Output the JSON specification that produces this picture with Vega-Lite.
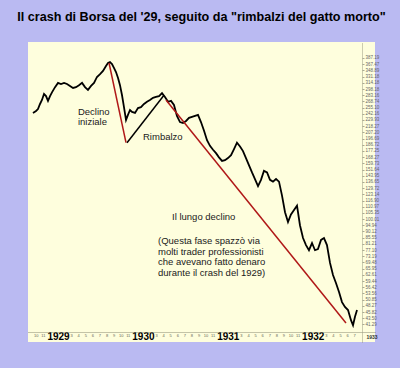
{
  "$schema": "https://vega.github.io/schema/vega-lite/v6.json",
  "width": 347,
  "height": 300,
  "autosize": {"type": "none"},
  "padding": {"left": 28, "top": 42, "right": 25, "bottom": 26},
  "background": "#babaf2",
  "title": {
    "text": "Il crash di Borsa del '29, seguito da \"rimbalzi del gatto morto\"",
    "font": "Liberation Sans",
    "fontSize": 12.6,
    "fontWeight": "bold",
    "color": "#000000",
    "anchor": "middle",
    "frame": "group",
    "offset": 18
  },
  "config": {"view": {"fill": "#fefedd", "stroke": null}},
  "resolve": {"axis": {"x": "independent"}},
  "datasets": {
    "price": [
      {"t": 1928.764, "v": 244}, {"t": 1928.800, "v": 248}, {"t": 1928.823, "v": 252},
      {"t": 1928.847, "v": 263}, {"t": 1928.870, "v": 272}, {"t": 1928.894, "v": 286},
      {"t": 1928.918, "v": 281}, {"t": 1928.941, "v": 270}, {"t": 1928.965, "v": 281},
      {"t": 1928.988, "v": 290}, {"t": 1929.024, "v": 303}, {"t": 1929.059, "v": 314},
      {"t": 1929.094, "v": 311}, {"t": 1929.130, "v": 314}, {"t": 1929.165, "v": 311},
      {"t": 1929.200, "v": 306}, {"t": 1929.236, "v": 301}, {"t": 1929.271, "v": 303},
      {"t": 1929.306, "v": 308}, {"t": 1929.342, "v": 314}, {"t": 1929.377, "v": 303},
      {"t": 1929.412, "v": 296}, {"t": 1929.448, "v": 306}, {"t": 1929.483, "v": 314},
      {"t": 1929.518, "v": 330}, {"t": 1929.554, "v": 338}, {"t": 1929.589, "v": 347},
      {"t": 1929.624, "v": 362}, {"t": 1929.648, "v": 371}, {"t": 1929.671, "v": 374},
      {"t": 1929.695, "v": 368}, {"t": 1929.718, "v": 356}, {"t": 1929.742, "v": 344},
      {"t": 1929.766, "v": 327}, {"t": 1929.789, "v": 308}, {"t": 1929.813, "v": 283},
      {"t": 1929.836, "v": 256}, {"t": 1929.860, "v": 230}, {"t": 1929.883, "v": 240},
      {"t": 1929.907, "v": 250}, {"t": 1929.931, "v": 246}, {"t": 1929.966, "v": 244},
      {"t": 1930.001, "v": 254}, {"t": 1930.036, "v": 256}, {"t": 1930.072, "v": 263},
      {"t": 1930.107, "v": 268}, {"t": 1930.142, "v": 272}, {"t": 1930.178, "v": 277},
      {"t": 1930.213, "v": 279}, {"t": 1930.249, "v": 281}, {"t": 1930.284, "v": 288},
      {"t": 1930.319, "v": 279}, {"t": 1930.355, "v": 268}, {"t": 1930.390, "v": 270},
      {"t": 1930.425, "v": 261}, {"t": 1930.460, "v": 238}, {"t": 1930.496, "v": 226},
      {"t": 1930.531, "v": 224}, {"t": 1930.567, "v": 228}, {"t": 1930.602, "v": 234},
      {"t": 1930.637, "v": 236}, {"t": 1930.673, "v": 238}, {"t": 1930.708, "v": 240},
      {"t": 1930.743, "v": 226}, {"t": 1930.779, "v": 210}, {"t": 1930.814, "v": 194},
      {"t": 1930.849, "v": 185}, {"t": 1930.885, "v": 179}, {"t": 1930.920, "v": 174},
      {"t": 1930.955, "v": 168}, {"t": 1930.991, "v": 163}, {"t": 1931.026, "v": 164},
      {"t": 1931.061, "v": 167}, {"t": 1931.097, "v": 171}, {"t": 1931.132, "v": 180},
      {"t": 1931.167, "v": 190}, {"t": 1931.203, "v": 184}, {"t": 1931.238, "v": 177},
      {"t": 1931.273, "v": 167}, {"t": 1931.309, "v": 157}, {"t": 1931.344, "v": 148},
      {"t": 1931.379, "v": 140}, {"t": 1931.415, "v": 132}, {"t": 1931.450, "v": 139},
      {"t": 1931.485, "v": 150}, {"t": 1931.521, "v": 148}, {"t": 1931.556, "v": 139},
      {"t": 1931.591, "v": 137}, {"t": 1931.627, "v": 140}, {"t": 1931.662, "v": 137},
      {"t": 1931.697, "v": 122}, {"t": 1931.733, "v": 106}, {"t": 1931.768, "v": 97.6},
      {"t": 1931.803, "v": 104}, {"t": 1931.839, "v": 108}, {"t": 1931.874, "v": 112},
      {"t": 1931.909, "v": 95}, {"t": 1931.945, "v": 85.3}, {"t": 1931.980, "v": 80.4},
      {"t": 1932.015, "v": 77.0}, {"t": 1932.051, "v": 81.8}, {"t": 1932.086, "v": 77.0},
      {"t": 1932.121, "v": 77.7}, {"t": 1932.157, "v": 84.0}, {"t": 1932.192, "v": 85.3},
      {"t": 1932.227, "v": 80.4}, {"t": 1932.263, "v": 69.2}, {"t": 1932.298, "v": 62.5},
      {"t": 1932.333, "v": 58.5}, {"t": 1932.369, "v": 54.2}, {"t": 1932.404, "v": 49.8},
      {"t": 1932.439, "v": 47.8}, {"t": 1932.475, "v": 46.6}, {"t": 1932.510, "v": 42.8},
      {"t": 1932.534, "v": 41.0}, {"t": 1932.557, "v": 44.0}, {"t": 1932.581, "v": 46.6}
    ],
    "trends": [
      {"seg": "a", "kind": "declino", "t": 1929.660, "v": 371},
      {"seg": "a", "kind": "declino", "t": 1929.860, "v": 190},
      {"seg": "b", "kind": "rimbalzo", "t": 1929.872, "v": 190},
      {"seg": "b", "kind": "rimbalzo", "t": 1930.307, "v": 283},
      {"seg": "c", "kind": "declino", "t": 1930.331, "v": 272},
      {"seg": "c", "kind": "declino", "t": 1932.451, "v": 41.8}
    ],
    "notes": [
      {"t": 1929.294, "v": 246, "label": "Declino"},
      {"t": 1929.294, "v": 226, "label": "iniziale"},
      {"t": 1930.060, "v": 200, "label": "Rimbalzo"},
      {"t": 1930.402, "v": 101.8, "label": "Il lungo declino"},
      {"t": 1930.237, "v": 83.2, "label": "(Questa fase spazzò via"},
      {"t": 1930.237, "v": 75.8, "label": "molti trader professionisti"},
      {"t": 1930.237, "v": 69.5, "label": "che avevano fatto denaro"},
      {"t": 1930.237, "v": 63.6, "label": "durante il crash del 1929)"}
    ],
    "corner": [
      {"t": 1932.7575, "v": 37.14, "label": "1933"}
    ]
  },
  "layer": [
    {
      "data": {"name": "price"},
      "mark": {"type": "line", "color": "#000000", "strokeWidth": 1.8},
      "encoding": {
        "x": {
          "field": "t",
          "type": "quantitative",
          "scale": {"domain": [1928.7055, 1932.7928], "nice": false, "zero": false},
          "axis": {
            "orient": "bottom",
            "offset": -10,
            "title": null,
            "grid": false,
            "values": [1929, 1930, 1931, 1932],
            "format": "d",
            "domainDash": [1, 1],
            "domainColor": "#8a8a70",
            "ticks": false,
            "labelPadding": -1,
            "labelOffset": 5,
            "labelOverlap": false,
            "labelBound": false,
            "labelFlush": false,
            "labelFont": "Liberation Sans",
            "labelFontSize": 10,
            "labelFontWeight": "bold",
            "labelColor": "#000000"
          }
        },
        "y": {
          "field": "v",
          "type": "quantitative",
          "scale": {"type": "log", "domain": [35.62, 442.67], "nice": false},
          "axis": {
            "orient": "right",
            "offset": -13,
            "title": null,
            "grid": false,
            "values": [387.19, 367.47, 348.89, 331.18, 314.18, 298.18, 283.16, 268.74, 255.1, 242.16, 229.93, 218.27, 207.2, 196.69, 186.72, 177.25, 168.27, 159.73, 151.64, 143.95, 136.65, 129.72, 123.14, 116.9, 110.97, 105.35, 100.01, 94.94, 90.12, 85.55, 81.21, 77.1, 73.19, 69.48, 65.95, 62.61, 59.44, 56.42, 53.56, 50.85, 48.27, 45.82, 43.5, 41.29],
            "format": ".2f",
            "domainDash": [1, 1],
            "domainColor": "#9a9a80",
            "tickSize": 2,
            "tickColor": "#aaaa90",
            "labelPadding": 1,
            "labelOverlap": false,
            "labelBound": false,
            "labelFlush": false,
            "labelFont": "Liberation Sans",
            "labelFontSize": 4.5,
            "labelColor": "#666666"
          }
        }
      }
    },
    {
      "data": {"name": "trends"},
      "mark": {"type": "line", "strokeWidth": 1.5},
      "encoding": {
        "x": {"field": "t", "type": "quantitative", "axis": null},
        "y": {"field": "v", "type": "quantitative"},
        "detail": {"field": "seg"},
        "color": {
          "field": "kind",
          "type": "nominal",
          "scale": {"domain": ["declino", "rimbalzo"], "range": ["#b01818", "#000000"]},
          "legend": null
        }
      }
    },
    {
      "data": {"name": "notes"},
      "mark": {"type": "text", "align": "left", "baseline": "middle", "font": "Liberation Sans", "fontSize": 9.5, "color": "#1a1a1a"},
      "encoding": {
        "x": {"field": "t", "type": "quantitative", "axis": null},
        "y": {"field": "v", "type": "quantitative"},
        "text": {"field": "label"}
      }
    },
    {
      "data": {"name": "corner"},
      "mark": {"type": "text", "align": "center", "baseline": "middle", "font": "Liberation Sans", "fontSize": 5, "fontWeight": "bold", "color": "#333333"},
      "encoding": {
        "x": {
          "field": "t",
          "type": "quantitative",
          "axis": {
            "orient": "bottom",
            "offset": -10,
            "title": null,
            "grid": false,
            "domain": false,
            "ticks": false,
            "values": [1928.75, 1928.8333, 1929.1667, 1929.25, 1929.3333, 1929.4167, 1929.5, 1929.5833, 1929.6667, 1929.75, 1929.8333, 1930.1667, 1930.25, 1930.3333, 1930.4167, 1930.5, 1930.5833, 1930.6667, 1930.75, 1930.8333, 1931.1667, 1931.25, 1931.3333, 1931.4167, 1931.5, 1931.5833, 1931.6667, 1931.75, 1931.8333, 1932.1667, 1932.25, 1932.3333, 1932.4167, 1932.5],
            "labelExpr": "'' + (round(datum.value*12) % 12 + 1)",
            "labelPadding": 1,
            "labelOffset": 4,
            "labelOverlap": false,
            "labelBound": false,
            "labelFlush": false,
            "labelFont": "Liberation Sans",
            "labelFontSize": 4,
            "labelColor": "#666655"
          }
        },
        "y": {"field": "v", "type": "quantitative"},
        "text": {"field": "label"}
      }
    }
  ]
}
